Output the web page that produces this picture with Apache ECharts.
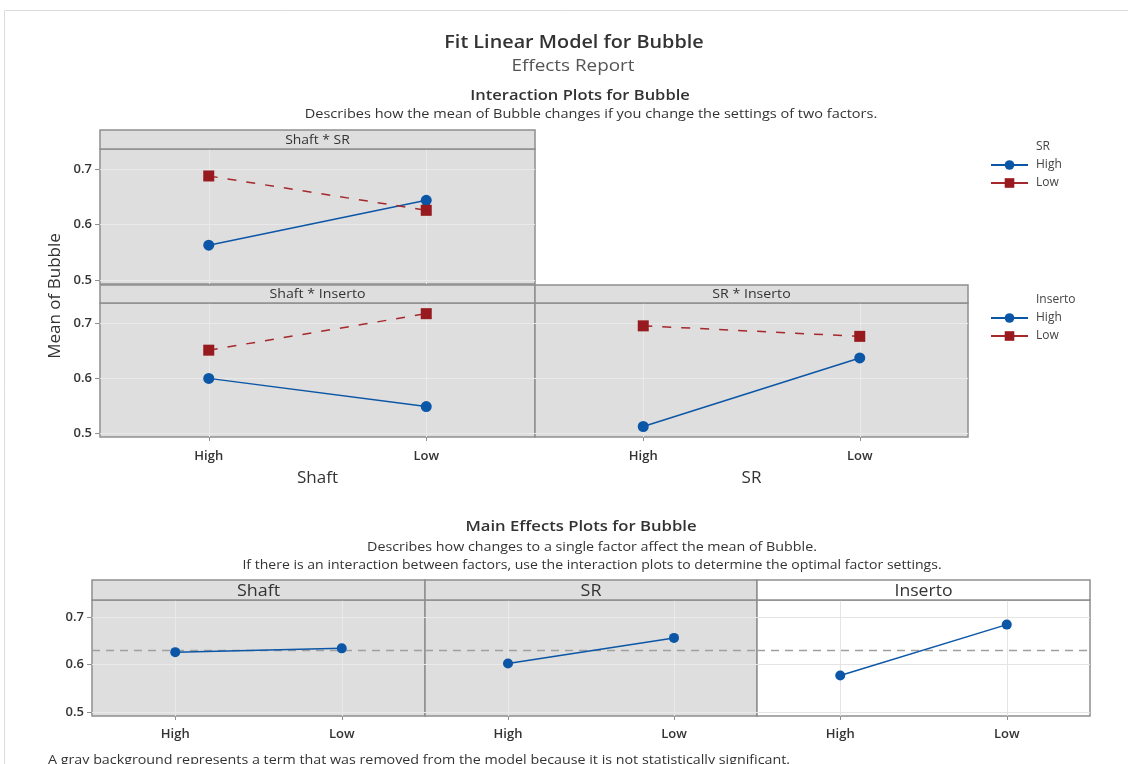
<!DOCTYPE html>
<html>
<head>
<meta charset="utf-8">
<title>Fit Linear Model for Bubble</title>
<script src="https://cdn.jsdelivr.net/npm/echarts@6/dist/echarts.min.js"></script>
<style>
  html, body { margin: 0; padding: 0; background: #fff; }
  #main { width: 1128px; height: 764px; }
</style>
</head>
<body>
<div id="main"></div>
<script>
// factor levels and y ticks
var levels = ['High', 'Low'];
var yTicks = [0.5, 0.6, 0.7];

// interaction plots (x factor levels High / Low)
var shaftSR_high = [0.563, 0.644];    // SR = High
var shaftSR_low = [0.688, 0.626];     // SR = Low
var shaftIns_high = [0.600, 0.549];   // Inserto = High
var shaftIns_low = [0.651, 0.717];    // Inserto = Low
var srIns_high = [0.513, 0.637];      // Inserto = High
var srIns_low = [0.695, 0.676];       // Inserto = Low

// main effects
var mainShaft = [0.626, 0.634];
var mainSR = [0.602, 0.656];
var mainInserto = [0.577, 0.684];
var grandMean = 0.630;

var FONT = '"Open Sans", "Noto Sans", sans-serif';
var BORDER = '#8f8f8f';
var GRAY = '#dedede';
var BLUE = '#0b56a6';
var RED = '#971a1e';
var TXT = '#333';

// panel layout
var panels = [
    { left: 100, top: 149, width: 435, height: 135, bg: GRAY, yLab: true, xLab: false, min: 0.493, max: 0.7367, strip: 'Shaft * SR', stripTop: 130, stripFont: 12, stripScale: 1.16, lm: 13 },
    { left: 100, top: 303, width: 435, height: 134, bg: GRAY, yLab: true, xLab: true, min: 0.494, max: 0.7363, strip: 'Shaft * Inserto', stripTop: 285, stripFont: 12, stripScale: 1.18, lm: 13, xName: 'Shaft' },
    { left: 535, top: 303, width: 433, height: 134, bg: GRAY, yLab: false, xLab: true, min: 0.494, max: 0.7363, strip: 'SR * Inserto', stripTop: 285, stripFont: 12, stripScale: 1.18, lm: 13, xName: 'SR' },
    { left: 92, top: 600, width: 333, height: 116, bg: GRAY, yLab: true, xLab: true, min: 0.4916, max: 0.7358, strip: 'Shaft', stripTop: 580, stripFont: 16, stripScale: 1.12, lm: 12 },
    { left: 425, top: 600, width: 332, height: 116, bg: GRAY, yLab: false, xLab: true, min: 0.4916, max: 0.7358, strip: 'SR', stripTop: 580, stripFont: 16, stripScale: 1.12, lm: 12 },
    { left: 757, top: 600, width: 333, height: 116, bg: '#fff', yLab: false, xLab: true, min: 0.4916, max: 0.7358, strip: 'Inserto', stripTop: 580, stripFont: 16, stripScale: 1.1, lm: 12 }
];

var grids = [], xAxes = [], yAxes = [], series = [], graphics = [];

panels.forEach(function (p, i) {
    grids.push({
        show: true, left: p.left, top: p.top, width: p.width, height: p.height,
        backgroundColor: p.bg, borderColor: BORDER, borderWidth: 1.5
    });
    xAxes.push({
        gridIndex: i, type: 'category', data: levels, boundaryGap: true,
        name: p.xName || '', nameLocation: 'middle', nameGap: 33,
        nameTextStyle: { fontSize: 17, color: TXT, fontFamily: FONT },
        axisLine: { show: false },
        axisTick: { show: p.xLab, alignWithLabel: true, length: 4, lineStyle: { color: BORDER } },
        axisLabel: { show: p.xLab, margin: p.lm, fontSize: 13, fontWeight: 600, color: TXT, fontFamily: FONT },
        splitLine: { show: false }
    });
    yAxes.push({
        gridIndex: i, type: 'value', min: p.min, max: p.max,
        axisLine: { show: false },
        axisTick: { show: p.yLab, length: 5, customValues: yTicks, lineStyle: { color: BORDER } },
        axisLabel: {
            show: p.yLab, customValues: yTicks, margin: 8, fontSize: 13, fontWeight: 600,
            color: TXT, fontFamily: FONT,
            formatter: function (v) { return v.toFixed(1); }
        },
        splitLine: { show: false }
    });
    // faint grid lines behind the data
    var gl = yTicks.map(function (v) { return { yAxis: v }; })
        .concat(levels.map(function (c) { return { xAxis: c }; }));
    series.push({
        type: 'line', xAxisIndex: i, yAxisIndex: i, data: [], silent: true, z: 1,
        markLine: {
            silent: true, z: 1, symbol: ['none', 'none'], label: { show: false }, animation: false,
            lineStyle: { color: p.bg === '#fff' ? '#e4e4e4' : '#e9e9e9', width: 1, type: 'solid' },
            data: gl
        }
    });
    // strip on top of each panel
    graphics.push({
        type: 'rect', z: 10,
        shape: { x: p.left, y: p.stripTop, width: p.width, height: p.top - p.stripTop },
        style: { fill: p.bg, stroke: BORDER, lineWidth: 1.5 }
    });
    graphics.push({
        type: 'text', z: 11, x: p.left + p.width / 2, y: (p.stripTop + p.top) / 2 + 1,
        scaleX: p.stripScale,
        style: { text: p.strip, fill: TXT, font: p.stripFont + 'px ' + FONT, textAlign: 'center', textVerticalAlign: 'middle' }
    });
});

function highSeries(i, data) {
    return {
        name: 'High', type: 'line', xAxisIndex: i, yAxisIndex: i, data: data, z: 3,
        symbol: 'circle', symbolSize: 11, color: BLUE,
        lineStyle: { color: BLUE, width: 1.5 }, animation: false
    };
}
function lowSeries(i, data) {
    return {
        name: 'Low', type: 'line', xAxisIndex: i, yAxisIndex: i, data: data, z: 3,
        symbol: 'rect', symbolSize: 11, color: RED,
        lineStyle: { color: '#a4282c', width: 1.5, type: [9, 10] }, animation: false
    };
}
function mainSeries(i, name, data) {
    return {
        name: name, type: 'line', xAxisIndex: i, yAxisIndex: i, data: data, z: 3,
        symbol: 'circle', symbolSize: 10, color: BLUE,
        lineStyle: { color: BLUE, width: 1.5 }, animation: false,
        markLine: {
            silent: true, z: 2, symbol: ['none', 'none'], label: { show: false }, animation: false,
            lineStyle: { color: '#a0a0a0', width: 1.3, type: [8, 6] },
            data: [{ yAxis: grandMean }]
        }
    };
}

series.push(highSeries(0, shaftSR_high), lowSeries(0, shaftSR_low));
series.push(highSeries(1, shaftIns_high), lowSeries(1, shaftIns_low));
series.push(highSeries(2, srIns_high), lowSeries(2, srIns_low));
series.push(mainSeries(3, 'Shaft', mainShaft));
series.push(mainSeries(4, 'SR', mainSR));
series.push(mainSeries(5, 'Inserto', mainInserto));

function txt(x, y, text, size, opts) {
    opts = opts || {};
    return {
        type: 'text', x: x, y: y, rotation: opts.rotation || 0, z: 12,
        scaleX: opts.sx || 1,
        style: {
            text: text, fill: opts.color || TXT,
            font: (opts.weight || 'normal') + ' ' + size + 'px ' + FONT,
            textAlign: opts.align || 'center', textVerticalAlign: 'middle'
        }
    };
}

// page frame
graphics.push({
    type: 'rect', z: 0, shape: { x: 4.5, y: 10.5, width: 1200, height: 800 },
    style: { fill: null, stroke: '#dcdcdc', lineWidth: 1 }
});
graphics.push(
    txt(574, 43, 'Fit Linear Model for Bubble', 18, { weight: 600, sx: 1.1 }),
    txt(573, 66, 'Effects Report', 16, { color: '#555', sx: 1.18 }),
    txt(580, 96, 'Interaction Plots for Bubble', 15, { weight: 600, sx: 1.1 }),
    txt(591, 115, 'Describes how the mean of Bubble changes if you change the settings of two factors.', 12, { sx: 1.21 }),
    txt(55, 296, 'Mean of Bubble', 17, { rotation: Math.PI / 2 }),
    txt(1036, 147, 'SR', 12, { align: 'left', color: '#444' }),
    txt(1036, 300, 'Inserto', 12, { align: 'left', color: '#444' }),
    txt(581, 527, 'Main Effects Plots for Bubble', 15, { weight: 600, sx: 1.11 }),
    txt(592, 548, 'Describes how changes to a single factor affect the mean of Bubble.', 12, { sx: 1.19 }),
    txt(592, 566, 'If there is an interaction between factors, use the interaction plots to determine the optimal factor settings.', 12, { sx: 1.17 }),
    txt(48, 761, 'A gray background represents a term that was removed from the model because it is not statistically significant.', 12, { align: 'left', sx: 1.19 })
);

var legendBase = {
    orient: 'vertical', left: 985, itemWidth: 37, itemHeight: 12, itemGap: 6,
    data: ['High', 'Low'], selectedMode: false,
    lineStyle: { type: 'solid' },
    textStyle: { fontSize: 12, color: '#444', fontFamily: FONT, padding: [0, 0, 0, 3] }
};

var chart = echarts.init(document.getElementById('main'));
chart.setOption({
    animation: false,
    textStyle: { fontFamily: FONT },
    legend: [
        Object.assign({}, legendBase, { top: 154 }),
        Object.assign({}, legendBase, { top: 307 })
    ],
    grid: grids,
    xAxis: xAxes,
    yAxis: yAxes,
    series: series,
    graphic: graphics
});
window.addEventListener('resize', function () {
    chart.resize();
});
</script>
</body>
</html>
